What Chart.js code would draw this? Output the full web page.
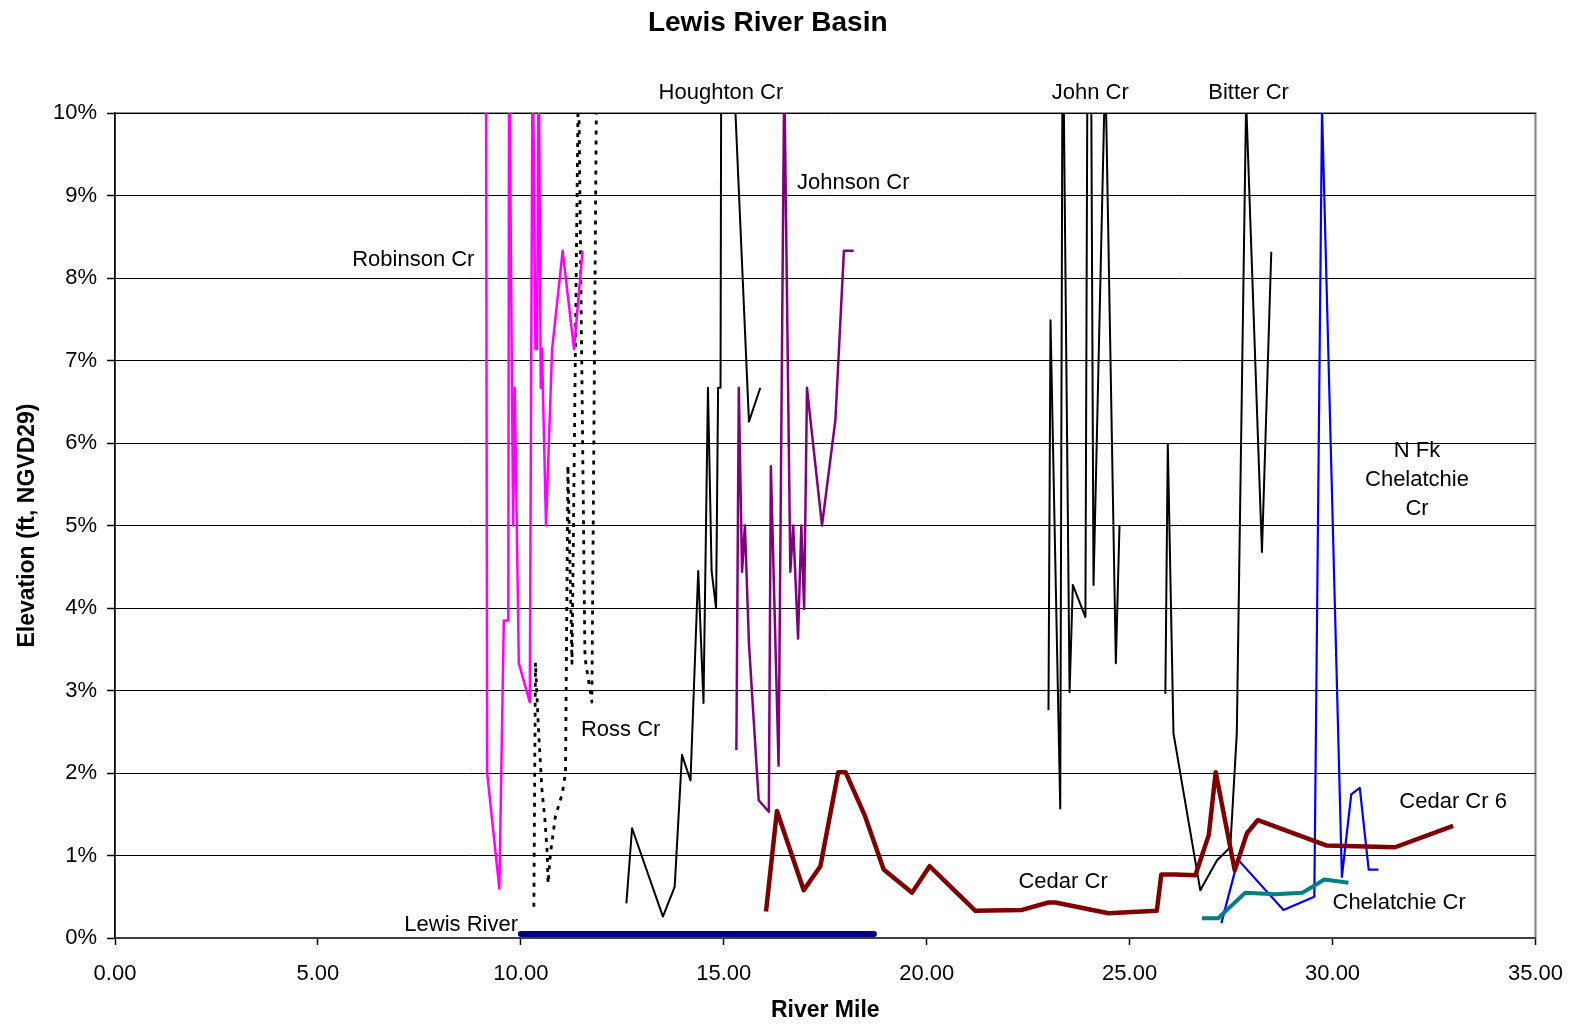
<!DOCTYPE html>
<html lang="en">
<head>
<meta charset="UTF-8">
<title>Lewis River Basin</title>
<script src="https://cdn.jsdelivr.net/npm/chart.js"></script>
<style>
  body { margin: 0; background: #fff; }
  canvas { display: block; }
</style>
</head>
<body>
<canvas id="chart" width="1573" height="1024"></canvas>
<script>
// river mile / channel gradient (%) for each stream
const lewisMile = [10.0, 18.7];
const lewisGrade = [0.05, 0.05];

const robinsonMile = [9.14, 9.17, 9.47, 9.58, 9.69, 9.71, 9.81, 9.85, 9.95, 10.22, 10.29, 10.36, 10.40, 10.44, 10.49, 10.52, 10.62, 10.77, 11.03, 11.31, 11.52];
const robinsonGrade = [11, 2.0, 0.6, 3.85, 3.85, 11, 5.0, 6.67, 3.33, 2.86, 11, 7.14, 7.14, 11, 6.67, 7.14, 5.0, 7.14, 8.33, 7.14, 8.33];

const rossMile = [10.32, 10.36, 10.44, 10.52, 10.59, 10.65, 10.67, 10.73, 10.85, 11.02, 11.10, 11.16, 11.26, 11.42, 11.58, 11.75, 11.86];
const rossGrade = [0.38, 3.34, 2.48, 1.79, 1.45, 1.03, 0.66, 1.03, 1.47, 1.75, 2.0, 5.73, 3.33, 10.6, 3.4, 2.86, 10.1];

const houghtonMile = [12.60, 12.74, 13.50, 13.79, 13.97, 14.18, 14.37, 14.50, 14.61, 14.70, 14.81, 14.86, 14.92, 14.95, 15.62, 15.90];
const houghtonGrade = [0.42, 1.33, 0.26, 0.62, 2.22, 1.91, 4.45, 2.85, 6.67, 4.45, 4.0, 6.67, 6.67, 13.8, 6.26, 6.67];

const johnsonMile = [15.31, 15.37, 15.45, 15.52, 15.62, 15.86, 16.11, 16.16, 16.35, 16.49, 16.64, 16.71, 16.83, 16.91, 16.98, 17.05, 17.42, 17.75, 17.96, 18.20];
const johnsonGrade = [2.28, 6.67, 4.44, 5.0, 3.57, 1.67, 1.53, 5.72, 2.09, 10.5, 4.44, 5.0, 3.63, 5.0, 3.99, 6.67, 5.0, 6.28, 8.33, 8.33];

const johnMile = [23.00, 23.05, 23.29, 23.35, 23.52, 23.60, 23.91, 24.00, 24.11, 24.40, 24.66, 24.75];
const johnGrade = [2.76, 7.49, 1.57, 11.5, 2.98, 4.28, 3.89, 16, 4.28, 10.6, 3.33, 5.0];

const bitterMile = [25.88, 25.94, 26.08, 26.74, 27.15, 27.48, 27.64, 27.87, 28.26, 28.49];
const bitterGrade = [2.96, 5.99, 2.48, 0.58, 0.94, 1.10, 2.48, 10.15, 4.68, 8.32];

const cedarMile = [16.04, 16.31, 16.97, 17.38, 17.82, 18.00, 18.47, 18.94, 19.64, 20.07, 21.20, 22.35, 23.00, 23.17, 24.48, 25.67, 25.78, 26.12, 26.62, 26.95, 27.12, 27.59, 27.89, 28.16, 29.86, 31.54, 32.97];
const cedarGrade = [0.32, 1.54, 0.58, 0.87, 2.01, 2.01, 1.49, 0.83, 0.55, 0.87, 0.33, 0.34, 0.43, 0.43, 0.30, 0.33, 0.77, 0.77, 0.76, 1.25, 2.01, 0.82, 1.27, 1.43, 1.12, 1.10, 1.36];

const nfkMile = [27.26, 27.67, 28.79, 29.55, 29.74, 30.23, 30.46, 30.67, 30.89, 31.13];
const nfkGrade = [0.18, 0.95, 0.34, 0.50, 10.05, 0.74, 1.74, 1.82, 0.83, 0.83];

const chelatchieMile = [26.78, 27.18, 27.85, 28.59, 29.26, 29.80, 30.39];
const chelatchieGrade = [0.24, 0.24, 0.55, 0.53, 0.55, 0.71, 0.67];

// axis ticks
const mileTicks = [0, 5, 10, 15, 20, 25, 30, 35];
const gradeTicks = [0, 1, 2, 3, 4, 5, 6, 7, 8, 9, 10];

// stream names written next to their lines (river mile, gradient %)
const streamLabels = [
  { text: ['Lewis River'], mile: 9.93, pct: 0.16, align: 'right' },
  { text: ['Robinson Cr'], mile: 7.35, pct: 8.22 },
  { text: ['Ross Cr'], mile: 12.46, pct: 2.52 },
  { text: ['Houghton Cr'], mile: 14.93, pct: 10.25 },
  { text: ['Johnson Cr'], mile: 18.19, pct: 9.15 },
  { text: ['John Cr'], mile: 24.03, pct: 10.24 },
  { text: ['Bitter Cr'], mile: 27.93, pct: 10.24 },
  { text: ['N Fk', 'Chelatchie', 'Cr'], mile: 32.08, pct: 5.90 },
  { text: ['Cedar Cr 6'], mile: 32.97, pct: 1.65 },
  { text: ['Cedar Cr'], mile: 23.36, pct: 0.68 },
  { text: ['Chelatchie Cr'], mile: 31.64, pct: 0.42 }
];

const FONT = '"Liberation Sans", Arial, sans-serif';
Chart.defaults.font.family = FONT;
Chart.defaults.color = '#000';

function pts(miles, grades) {
  return miles.map((m, i) => ({ x: m, y: grades[i] }));
}

function stream(label, miles, grades, color, width, extra) {
  return Object.assign({
    label: label,
    data: pts(miles, grades),
    borderColor: color,
    backgroundColor: color,
    borderWidth: width,
    pointRadius: 0,
    tension: 0,
    fill: false,
    clip: 0,
    showLine: true,
    borderJoinStyle: 'round'
  }, extra || {});
}

// gray frame round the plot area, drawn under the grid
const plotFrame = {
  id: 'plotFrame',
  beforeDraw(chart) {
    const { ctx, chartArea: a } = chart;
    ctx.save();
    ctx.strokeStyle = '#808080';
    ctx.lineWidth = 2;
    ctx.strokeRect(a.left, a.top, a.right - a.left, a.bottom - a.top);
    ctx.restore();
  }
};

// stream names placed in data units
const streamNames = {
  id: 'streamNames',
  afterDatasetsDraw(chart) {
    const { ctx, scales: { x, y } } = chart;
    ctx.save();
    ctx.font = '22px ' + FONT;
    ctx.fillStyle = '#000';
    ctx.textBaseline = 'middle';
    streamLabels.forEach(l => {
      ctx.textAlign = l.align || 'center';
      const px = x.getPixelForValue(l.mile);
      const py = y.getPixelForValue(l.pct);
      l.text.forEach((t, i) => ctx.fillText(t, px, py + i * 29));
    });
    ctx.restore();
  }
};

new Chart(document.getElementById('chart').getContext('2d'), {
  type: 'scatter',
  data: {
    datasets: [
      stream('Lewis River', lewisMile, lewisGrade, '#000080', 6, { borderCapStyle: 'round' }),
      stream('Cedar Cr', cedarMile, cedarGrade, '#800000', 4.5),
      stream('Chelatchie Cr', chelatchieMile, chelatchieGrade, '#008080', 4),
      stream('N Fk Chelatchie Cr', nfkMile, nfkGrade, '#0000FF', 2.2),
      stream('Robinson Cr', robinsonMile, robinsonGrade, '#FF00FF', 2.5),
      stream('Ross Cr', rossMile, rossGrade, '#000000', 2.8, { borderDash: [4, 6] }),
      stream('Houghton Cr', houghtonMile, houghtonGrade, '#000000', 2),
      stream('Johnson Cr', johnsonMile, johnsonGrade, '#800080', 2.5),
      stream('John Cr', johnMile, johnGrade, '#000000', 2),
      stream('Bitter Cr', bitterMile, bitterGrade, '#000000', 2)
    ]
  },
  options: {
    responsive: false,
    animation: false,
    devicePixelRatio: 1,
    layout: { padding: { left: 0, right: 37.5, top: 0, bottom: 0 } },
    plugins: {
      legend: { display: false },
      tooltip: { enabled: false },
      title: {
        display: true,
        text: 'Lewis River Basin',
        color: '#000',
        font: { size: 28, weight: 'bold' },
        padding: { top: 6, bottom: 73.5 }
      }
    },
    scales: {
      x: {
        type: 'linear',
        min: 0,
        max: 35,
        afterFit: s => {
          s.height = 86;
          // end labels may hang past the plot edges
          s.paddingLeft = 0;
          s.paddingRight = 0;
        },
        afterBuildTicks: s => { s.ticks = mileTicks.map(v => ({ value: v })); },
        ticks: {
          font: { size: 22 },
          padding: 16,
          maxRotation: 0,
          callback: v => Number(v).toFixed(2)
        },
        grid: {
          drawOnChartArea: false,
          drawTicks: true,
          tickLength: 7,
          tickColor: '#000',
          tickWidth: 1.5
        },
        border: { display: true, color: '#404040', width: 2 },
        title: {
          display: true,
          text: 'River Mile',
          font: { size: 23, weight: 'bold' },
          padding: { top: 0, bottom: 0 }
        }
      },
      y: {
        type: 'linear',
        min: 0,
        max: 10,
        afterFit: s => { s.width = 115; },
        afterBuildTicks: s => { s.ticks = gradeTicks.map(v => ({ value: v })); },
        ticks: {
          font: { size: 22 },
          padding: 10,
          callback: v => v + '%'
        },
        grid: {
          color: '#000',
          lineWidth: 1,
          borderDash: [4, 3],
          drawTicks: true,
          tickLength: 8,
          tickColor: '#000',
          tickBorderDash: [],
          tickWidth: 1.5
        },
        border: { display: true, color: '#000', width: 1.5 },
        title: {
          display: true,
          text: 'Elevation (ft, NGVD29)',
          font: { size: 23, weight: 'bold' },
          padding: { top: 14, bottom: 0 }
        }
      }
    }
  },
  plugins: [plotFrame, streamNames]
});
</script>
</body>
</html>
